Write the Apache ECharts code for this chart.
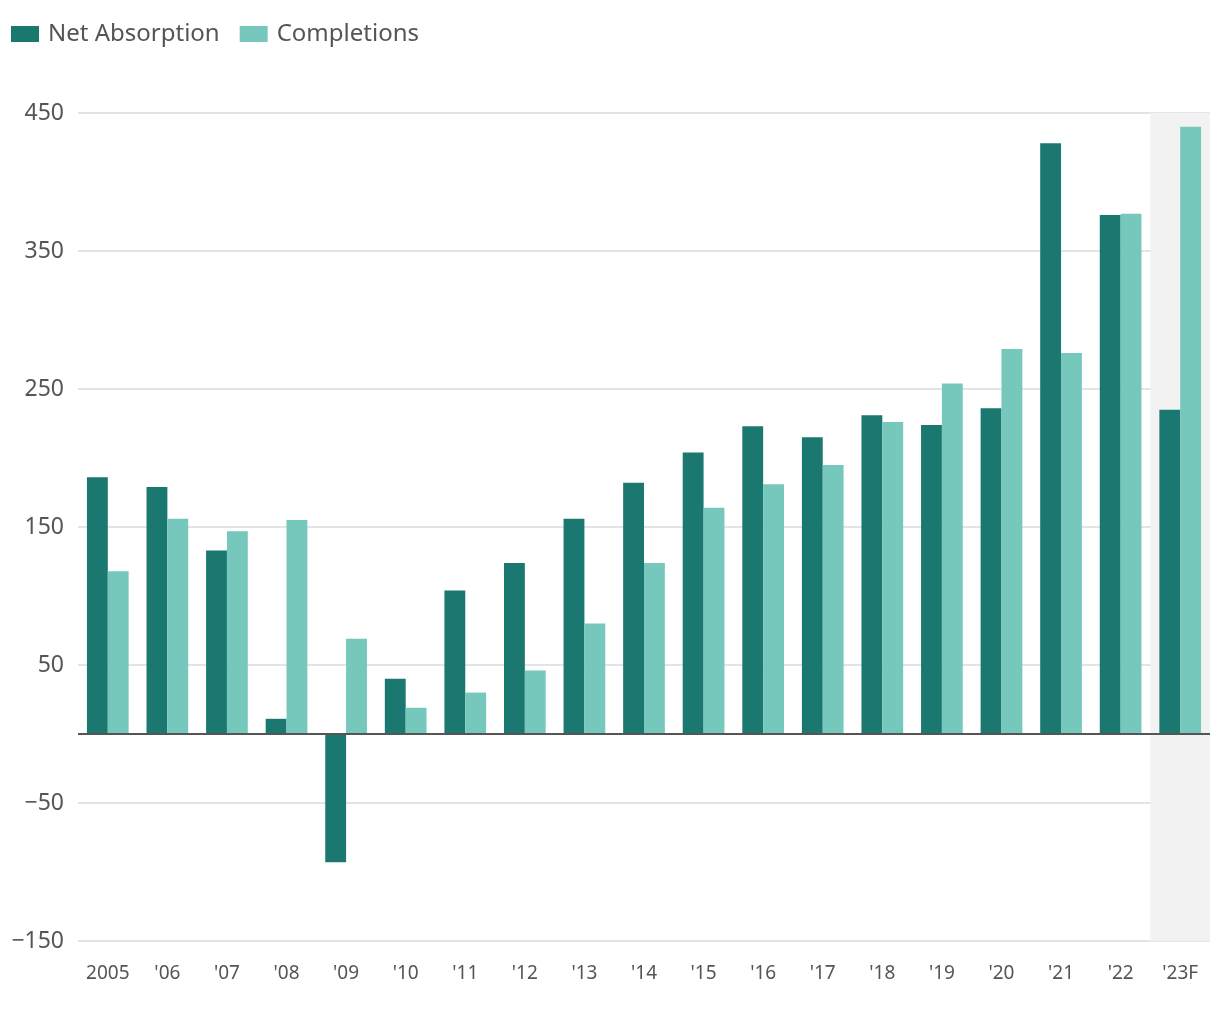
<!DOCTYPE html>
<html><head><meta charset="utf-8">
<script src="https://cdn.jsdelivr.net/npm/echarts@6/dist/echarts.min.js"></script>
<style>html,body{margin:0;padding:0;background:#fff}#c{width:1220px;height:1020px}</style>
</head><body><div id="c"></div>
<script>
const categories = ['2005',"'06","'07","'08","'09","'10","'11","'12","'13","'14","'15","'16","'17","'18","'19","'20","'21","'22","'23F"];
const netAbsorption = [186,179,133,11,-93,40,104,124,156,182,204,223,215,231,224,236,428,376,235];
const completions = [118,156,147,155,69,19,30,46,80,124,164,181,195,226,254,279,276,377,440];
const yMin = -150, yMax = 450, yInterval = 100;

const splitColors = categories.map((c,i)=> i===categories.length-1 ? '#f2f2f2' : 'rgba(255,255,255,0)');
const chart = echarts.init(document.getElementById('c'));
chart.setOption({
  animation:false,
  textStyle:{fontFamily:'Noto Sans'},
  legend:{left:6,top:17,itemWidth:28,itemHeight:16,itemGap:20,icon:'rect',
    textStyle:{fontSize:24,color:'#555',fontFamily:'Noto Sans',padding:[0,0,0,4]},
    data:['Net Absorption','Completions']},
  grid:{left:78,right:10,top:113,bottom:79},
  xAxis:{type:'category',data:categories,
    axisLine:{show:false,onZero:false},
    axisTick:{show:false},
    axisLabel:{color:'#555',fontSize:19,margin:23},
    splitArea:{show:true,areaStyle:{color:splitColors}}},
  yAxis:{type:'value',min:yMin,max:yMax,interval:yInterval,
    axisLine:{show:false},axisTick:{show:false},
    axisLabel:{color:'#555',fontSize:23,margin:14,padding:[3,0,0,0],formatter:v=>String(v).replace('-','\u2212')},
    splitLine:{lineStyle:{color:'#d9dde0',width:1.5}}},
  series:[
    {name:'Net Absorption',type:'bar',data:netAbsorption,barGap:'0%',barCategoryGap:'30%',
      itemStyle:{color:'#1a7870'},
      markLine:{silent:true,symbol:'none',label:{show:false},
        lineStyle:{color:'#555',width:2,type:'solid'},data:[{yAxis:0}]}},
    {name:'Completions',type:'bar',data:completions,barGap:'0%',barCategoryGap:'30%',
      itemStyle:{color:'#76c8bd'}}
  ]
});
</script></body></html>
